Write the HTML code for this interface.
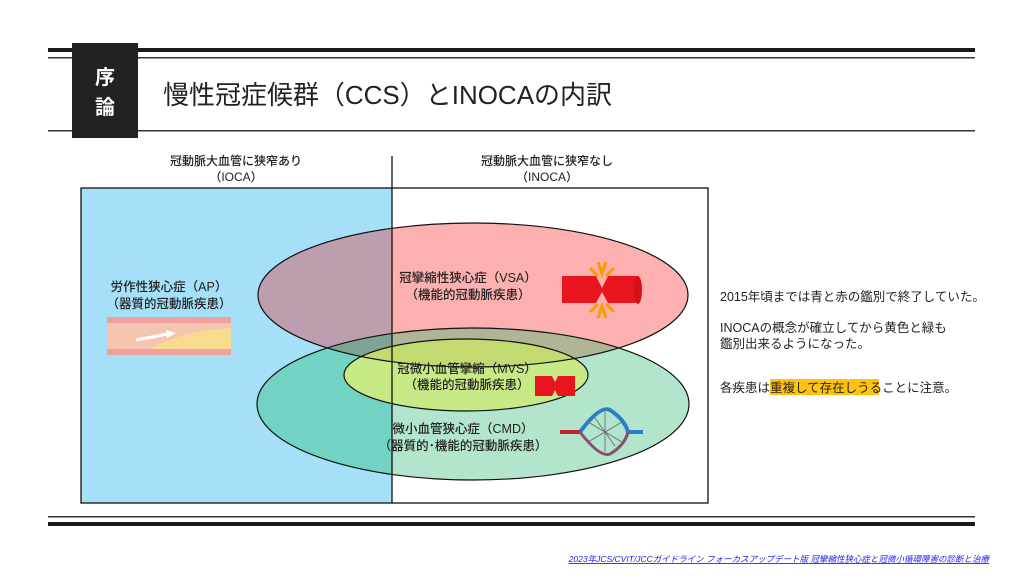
<!DOCTYPE html>
<html><head><meta charset="utf-8"><style>
body{margin:0;width:1024px;height:576px;background:#fff;overflow:hidden;font-family:"Liberation Sans","Noto Sans CJK JP",sans-serif;}
</style></head><body>
<svg width="1024" height="576" viewBox="0 0 1024 576" xmlns="http://www.w3.org/2000/svg" style="font-family:'Liberation Sans','Noto Sans CJK JP',sans-serif">
<defs>
<clipPath id="blue"><rect x="81" y="188" width="311" height="315"/></clipPath>
<clipPath id="white"><rect x="392" y="188" width="316" height="315"/></clipPath>
<clipPath id="red"><ellipse cx="473" cy="295" rx="215" ry="72"/></clipPath>
</defs>
<rect x="48" y="48" width="927" height="4" fill="#1a1a1a"/>
<rect x="48" y="57" width="927" height="1.5" fill="#333"/>
<rect x="48" y="130" width="927" height="1.5" fill="#333"/>
<rect x="48" y="516" width="927" height="1.5" fill="#333"/>
<rect x="48" y="522" width="927" height="4" fill="#1a1a1a"/>
<rect x="72" y="43" width="66" height="95" fill="#222"/>
<text x="105" y="84" fill="#fff" font-size="20" font-weight="bold" text-anchor="middle">序</text>
<text x="105" y="114" fill="#fff" font-size="20" font-weight="bold" text-anchor="middle">論</text>
<text x="163" y="104" font-size="26" fill="#222" textLength="449" lengthAdjust="spacingAndGlyphs">慢性冠症候群（CCS）とINOCAの内訳</text>
<g font-weight="500">
<text x="236" y="165" font-size="12" text-anchor="middle" fill="#222">冠動脈大血管に狭窄あり</text>
<text x="236" y="181" font-size="12" text-anchor="middle" fill="#222">（IOCA）</text>
<text x="547" y="165" font-size="12" text-anchor="middle" fill="#222">冠動脈大血管に狭窄なし</text>
<text x="547" y="181" font-size="12" text-anchor="middle" fill="#222">（INOCA）</text>
</g>
<rect x="81" y="188" width="311" height="315" fill="#a6e0f8"/>
<g clip-path="url(#white)">
<ellipse cx="473" cy="295" rx="215" ry="72" fill="#fcb0b0"/>
<ellipse cx="473" cy="404" rx="216" ry="76" fill="#b2e5cc"/>
<ellipse cx="473" cy="404" rx="216" ry="76" fill="#b0b595" clip-path="url(#red)"/>
</g>
<g clip-path="url(#blue)">
<ellipse cx="473" cy="295" rx="215" ry="72" fill="#bd9eae"/>
<ellipse cx="473" cy="404" rx="216" ry="76" fill="#72d2c4"/>
<ellipse cx="473" cy="404" rx="216" ry="76" fill="#7fa496" clip-path="url(#red)"/>
</g>
<ellipse cx="466" cy="375" rx="122" ry="36" fill="#c8ea86"/>
<ellipse cx="466" cy="375" rx="122" ry="36" fill="#c2da70" clip-path="url(#red)"/>
<ellipse cx="473" cy="295" rx="215" ry="72" fill="none" stroke="#111" stroke-width="1.2"/>
<ellipse cx="473" cy="404" rx="216" ry="76" fill="none" stroke="#111" stroke-width="1.2"/>
<ellipse cx="466" cy="375" rx="122" ry="36" fill="none" stroke="#111" stroke-width="1.2"/>
<rect x="81" y="188" width="627" height="315" fill="none" stroke="#111" stroke-width="1.3"/>
<line x1="392" y1="156" x2="392" y2="503" stroke="#111" stroke-width="1.3"/>
<g font-weight="500">
<text x="169" y="291" font-size="12.5" text-anchor="middle" fill="#222">労作性狭心症（AP）</text>
<text x="169" y="308" font-size="12.5" text-anchor="middle" fill="#222">（器質的冠動脈疾患）</text>
<text x="468" y="282" font-size="12.5" text-anchor="middle" fill="#222">冠攣縮性狭心症（VSA）</text>
<text x="468" y="299" font-size="12.5" text-anchor="middle" fill="#222">（機能的冠動脈疾患）</text>
<text x="467" y="373" font-size="12.5" text-anchor="middle" fill="#222">冠微小血管攣縮（MVS）</text>
<text x="467" y="389" font-size="12.5" text-anchor="middle" fill="#222">（機能的冠動脈疾患）</text>
<text x="463" y="433" font-size="12.5" text-anchor="middle" fill="#222">微小血管狭心症（CMD）</text>
<text x="463" y="450" font-size="12.5" text-anchor="middle" fill="#222">（器質的･機能的冠動脈疾患）</text>
</g>
<rect x="107" y="317" width="124" height="38" fill="#f1a0a0"/>
<rect x="107" y="323" width="124" height="26" fill="#f5c5b0"/>
<path d="M150 349 Q185 330 231 328 L231 349 Z" fill="#f7dc90"/>
<path d="M136 340 L168 334" stroke="#fff" stroke-width="3"/>
<path d="M166 330 L176 333 L167 338 Z" fill="#fff"/>
<path d="M562 276 L596 276 L602 288 L608 276 L638 276 L638 303 L608 303 L602 292 L596 303 L562 303 Z" fill="#e8141e"/>
<ellipse cx="638" cy="290" rx="4" ry="14" fill="#d40f18"/>
<path d="M598 262 L602 274 L606 262 M590 268 L598 276 M614 268 L606 276 M598 318 L602 306 L606 318 M590 312 L598 304 M614 312 L606 304" stroke="#f90" stroke-width="3" fill="none"/>
<path d="M535 376 L552 376 L555 382 L558 376 L575 376 L575 396 L558 396 L555 390 L552 396 L535 396 Z" fill="#e8141e"/>
<path d="M560 432 L580 432 Q600 405 610 410 Q625 420 628 432 L643 432" stroke="#2a7fc4" stroke-width="4" fill="none"/>
<path d="M560 432 L580 432" stroke="#c4203a" stroke-width="4"/>
<path d="M580 432 Q600 458 610 454 Q625 445 628 432" stroke="#8a5070" stroke-width="3" fill="none"/>
<path d="M588 422 L622 442 M588 442 L622 422 M595 418 L615 446 M605 412 L605 452" stroke="#666" stroke-width="0.8"/>
<text x="720" y="301" font-size="12.5" fill="#222">2015年頃までは青と赤の鑑別で終了していた。</text>
<text x="720" y="332" font-size="12.5" fill="#222">INOCAの概念が確立してから黄色と緑も</text>
<text x="720" y="348" font-size="12.5" fill="#222">鑑別出来るようになった。</text>
<rect x="770" y="379" width="109" height="16" fill="#ffc20e"/>
<text x="720" y="392" font-size="12.5" fill="#222">各疾患は重複して存在しうることに注意。</text>
<text x="989" y="562" font-size="8.5" font-style="italic" text-anchor="end" fill="#1a1aee" text-decoration="underline">2023年JCS/CVIT/JCCガイドライン フォーカスアップデート版 冠攣縮性狭心症と冠微小循環障害の診断と治療</text>
</svg>
</body></html>
